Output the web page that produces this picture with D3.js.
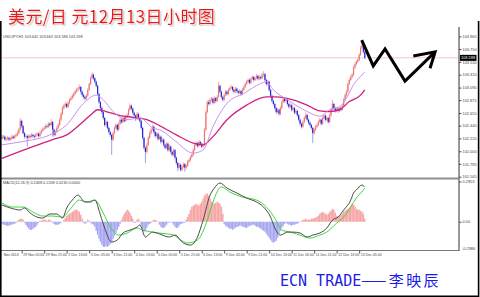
<!DOCTYPE html>
<html><head><meta charset="utf-8">
<script src="https://cdn.jsdelivr.net/npm/d3@7"></script>
<style>body{margin:0;background:#fff}svg{display:block}</style>
</head><body><svg id="c" width="480" height="297"></svg>
<script>
const opens=[102.24,102.23,102.25,102.20,102.21,102.23,102.20,102.21,102.25,102.23,
102.26,102.28,102.31,102.37,102.52,102.43,102.31,102.25,102.26,102.23,
102.26,102.25,102.28,102.26,102.25,102.28,102.30,102.26,102.31,102.35,
102.38,102.40,102.43,102.42,102.47,102.45,102.50,102.37,102.28,102.33,
102.40,102.45,102.54,102.64,102.74,102.78,102.81,102.76,102.83,102.88,
102.91,102.95,102.98,103.02,103.05,103.07,103.10,103.02,102.96,102.93,
102.90,102.95,103.05,103.15,103.25,103.31,103.25,103.19,103.12,102.98,
102.84,102.74,102.67,102.57,102.45,102.50,102.40,102.33,102.28,102.20,
102.31,102.40,102.45,102.37,102.47,102.54,102.50,102.57,102.52,102.59,
102.62,102.71,102.78,102.73,102.66,102.61,102.55,102.64,102.57,102.52,
102.40,102.23,102.06,101.99,102.11,102.23,102.31,102.37,102.42,102.33,
102.26,102.30,102.21,102.25,102.16,102.20,102.11,102.06,102.13,102.02,
102.08,101.99,101.94,102.02,101.89,101.80,101.72,101.77,101.68,101.73,
101.78,101.72,101.75,101.82,101.85,101.90,101.94,102.02,102.11,102.14,
102.09,102.16,102.13,102.08,102.11,102.37,102.67,102.84,102.81,102.88,
102.90,102.83,102.91,102.86,102.93,103.12,103.02,102.93,102.88,102.96,
103.02,102.98,103.05,103.08,103.10,103.05,103.02,103.07,103.03,103.00,
103.03,102.98,103.05,103.10,103.15,103.19,103.22,103.17,103.24,103.27,
103.22,103.25,103.29,103.24,103.27,103.25,103.31,103.32,103.22,103.15,
103.19,103.05,102.95,102.86,102.81,102.74,102.67,102.71,102.64,102.74,
102.84,102.90,102.86,102.88,102.81,102.76,102.79,102.71,102.74,102.66,
102.69,102.62,102.54,102.47,102.42,102.50,102.57,102.62,102.54,102.49,
102.45,102.40,102.31,102.37,102.42,102.45,102.50,102.54,102.47,102.57,
102.61,102.54,102.57,102.50,102.61,102.71,102.81,102.74,102.69,102.73,
102.69,102.74,102.71,102.78,102.88,102.96,103.02,103.15,103.22,103.27,
103.31,103.43,103.49,103.53,103.56,103.65,103.77,103.82,103.70];
const highs=[102.28,102.28,102.27,102.24,102.26,102.25,102.24,102.28,102.27,102.29,
102.31,102.34,102.40,102.57,102.54,102.45,102.33,102.29,102.28,102.29,
102.29,102.31,102.30,102.29,102.31,102.33,102.32,102.34,102.38,102.41,
102.43,102.46,102.46,102.50,102.49,102.55,102.52,102.39,102.36,102.43,
102.48,102.57,102.67,102.77,102.81,102.85,102.83,102.86,102.91,102.94,
102.98,103.01,103.05,103.08,103.10,103.14,103.12,103.04,102.99,102.95,
102.98,103.08,103.18,103.28,103.35,103.33,103.27,103.21,103.14,103.00,
102.86,102.77,102.69,102.59,102.53,102.52,102.42,102.35,102.30,102.34,
102.43,102.48,102.47,102.50,102.57,102.56,102.60,102.59,102.62,102.65,
102.74,102.82,102.80,102.75,102.68,102.63,102.67,102.66,102.59,102.54,
102.42,102.25,102.08,102.14,102.26,102.34,102.40,102.46,102.44,102.35,
102.33,102.32,102.28,102.27,102.23,102.22,102.13,102.16,102.15,102.11,
102.10,102.01,102.05,102.04,101.91,101.82,101.80,101.79,101.76,101.81,
101.80,101.78,101.85,101.88,101.93,101.97,102.05,102.14,102.17,102.16,
102.19,102.18,102.15,102.14,102.40,102.70,102.87,102.88,102.91,102.93,
102.92,102.94,102.93,102.96,103.19,103.14,103.04,102.95,102.99,103.05,
103.04,103.08,103.11,103.14,103.12,103.07,103.10,103.09,103.05,103.06,
103.05,103.08,103.13,103.18,103.22,103.25,103.24,103.27,103.30,103.29,
103.28,103.32,103.31,103.30,103.29,103.34,103.37,103.34,103.24,103.22,
103.21,103.07,102.97,102.88,102.83,102.76,102.74,102.73,102.77,102.87,
102.93,102.92,102.91,102.90,102.83,102.82,102.81,102.77,102.76,102.72,
102.71,102.64,102.56,102.49,102.53,102.60,102.66,102.64,102.56,102.51,
102.47,102.42,102.40,102.45,102.48,102.53,102.57,102.56,102.60,102.64,
102.63,102.60,102.59,102.64,102.74,102.88,102.83,102.76,102.76,102.75,
102.77,102.76,102.81,102.91,102.99,103.05,103.18,103.25,103.30,103.34,
103.46,103.52,103.56,103.59,103.68,103.80,103.86,103.84,103.72];
const lows=[102.20,102.21,102.18,102.17,102.19,102.17,102.18,102.20,102.21,102.21,
102.24,102.26,102.29,102.35,102.40,102.29,102.22,102.22,102.08,102.20,
102.22,102.23,102.23,102.22,102.23,102.26,102.24,102.24,102.29,102.33,
102.36,102.38,102.39,102.40,102.42,102.43,102.25,102.25,102.26,102.31,
102.38,102.43,102.52,102.62,102.71,102.75,102.73,102.74,102.80,102.86,
102.89,102.92,102.96,103.00,103.02,103.05,102.99,102.93,102.90,102.87,
102.88,102.93,103.03,103.13,103.23,103.22,103.16,103.09,102.95,102.81,
102.71,102.64,102.54,102.42,102.42,102.37,102.30,102.25,101.94,102.17,
102.29,102.38,102.34,102.35,102.45,102.47,102.48,102.49,102.50,102.57,
102.60,102.69,102.70,102.63,102.58,102.52,102.53,102.54,102.49,102.37,
102.20,102.03,101.80,101.96,102.09,102.21,102.29,102.35,102.30,102.23,
102.24,102.18,102.19,102.13,102.14,102.08,102.03,102.04,101.99,102.00,
101.96,101.91,101.92,101.86,101.77,101.66,101.70,101.65,101.66,101.71,
101.65,101.69,101.73,101.80,101.83,101.88,101.92,102.00,102.09,102.06,
102.07,102.10,102.05,102.06,102.09,102.35,102.65,102.78,102.79,102.85,
102.80,102.81,102.83,102.84,102.91,102.99,102.90,102.85,102.86,102.94,
102.95,102.96,103.03,103.06,103.02,102.99,103.00,103.00,102.97,102.98,
102.95,102.96,103.03,103.08,103.13,103.17,103.14,103.15,103.22,103.19,
103.20,103.23,103.21,103.22,103.22,103.23,103.28,103.19,103.12,103.13,
103.02,102.92,102.83,102.78,102.71,102.64,102.65,102.61,102.62,102.72,
102.82,102.83,102.84,102.78,102.73,102.74,102.68,102.69,102.63,102.64,
102.59,102.51,102.44,102.39,102.40,102.48,102.55,102.51,102.46,102.42,
102.37,102.14,102.28,102.35,102.40,102.43,102.48,102.44,102.45,102.55,
102.51,102.52,102.47,102.48,102.59,102.69,102.71,102.66,102.67,102.66,
102.67,102.68,102.69,102.76,102.86,102.94,103.00,103.13,103.20,103.25,
103.29,103.41,103.47,103.51,103.54,103.63,103.75,103.67,103.57];
const closes=[102.23,102.25,102.20,102.21,102.23,102.20,102.21,102.25,102.23,102.26,
102.28,102.31,102.37,102.52,102.43,102.31,102.25,102.26,102.23,102.26,
102.25,102.28,102.26,102.25,102.28,102.30,102.26,102.31,102.35,102.38,
102.40,102.43,102.42,102.47,102.45,102.50,102.37,102.28,102.33,102.40,
102.45,102.54,102.64,102.74,102.78,102.81,102.76,102.83,102.88,102.91,
102.95,102.98,103.02,103.05,103.07,103.10,103.02,102.96,102.93,102.90,
102.95,103.05,103.15,103.25,103.31,103.25,103.19,103.12,102.98,102.84,
102.74,102.67,102.57,102.45,102.50,102.40,102.33,102.28,102.20,102.31,
102.40,102.45,102.37,102.47,102.54,102.50,102.57,102.52,102.59,102.62,
102.71,102.78,102.73,102.66,102.61,102.55,102.64,102.57,102.52,102.40,
102.23,102.06,101.99,102.11,102.23,102.31,102.37,102.42,102.33,102.26,
102.30,102.21,102.25,102.16,102.20,102.11,102.06,102.13,102.02,102.08,
101.99,101.94,102.02,101.89,101.80,101.72,101.77,101.68,101.73,101.78,
101.72,101.75,101.82,101.85,101.90,101.94,102.02,102.11,102.14,102.09,
102.16,102.13,102.08,102.11,102.37,102.67,102.84,102.81,102.88,102.90,
102.83,102.91,102.86,102.93,103.12,103.02,102.93,102.88,102.96,103.02,
102.98,103.05,103.08,103.10,103.05,103.02,103.07,103.03,103.00,103.03,
102.98,103.05,103.10,103.15,103.19,103.22,103.17,103.24,103.27,103.22,
103.25,103.29,103.24,103.27,103.25,103.31,103.32,103.22,103.15,103.19,
103.05,102.95,102.86,102.81,102.74,102.67,102.71,102.64,102.74,102.84,
102.90,102.86,102.88,102.81,102.76,102.79,102.71,102.74,102.66,102.69,
102.62,102.54,102.47,102.42,102.50,102.57,102.62,102.54,102.49,102.45,
102.40,102.31,102.37,102.42,102.45,102.50,102.54,102.47,102.57,102.61,
102.54,102.57,102.50,102.61,102.71,102.81,102.74,102.69,102.73,102.69,
102.74,102.71,102.78,102.88,102.96,103.02,103.15,103.22,103.27,103.31,
103.43,103.49,103.53,103.56,103.65,103.77,103.82,103.70,103.60];

const fastMaIdx=[0,13,34,46,58,67,72,79,89,98,108,112,122,136,143,150,160,172,184,188,193,203,217,226,233,240,245,250,255,258];
const fastMaVal=[102.11,102.16,102.28,102.45,102.82,102.96,102.88,102.68,102.54,102.57,102.39,102.37,102.20,101.97,102.02,102.42,102.82,102.99,103.16,103.19,103.05,102.88,102.68,102.60,102.71,102.76,102.91,103.14,103.28,103.36];
const slowMaIdx=[0,22,36,46,55,63,68,74,84,93,103,112,124,136,143,150,160,174,188,195,207,217,226,233,240,247,255,258];
const slowMaVal=[101.88,102.08,102.20,102.28,102.45,102.62,102.71,102.68,102.61,102.58,102.54,102.44,102.28,102.14,102.11,102.25,102.54,102.79,102.93,102.93,102.88,102.79,102.69,102.68,102.71,102.85,102.96,103.05];

const macdIdx=[0,6,13,16,20,25,29,34,39,43,46,50,54,59,63,66,70,73,78,82,86,91,96,98,102,104,107,112,119,123,129,134,139,143,148,151,155,160,167,174,181,186,191,194,198,203,207,212,217,221,226,231,235,239,243,248,250,252,256,258];
const macdVal=[0.123,0.101,0.086,0.101,0.064,0.034,0.027,0.057,0.057,0.027,0.101,0.159,0.196,0.145,0.145,0.159,0.049,-0.046,-0.149,-0.134,-0.083,-0.061,-0.039,-0.024,-0.112,-0.098,-0.076,-0.090,-0.112,-0.098,-0.156,-0.171,-0.112,0.012,0.196,0.247,0.284,0.247,0.211,0.174,0.145,0.108,0.034,-0.046,-0.098,-0.076,-0.076,-0.083,-0.112,-0.098,-0.083,-0.046,0.012,0.034,0.086,0.159,0.211,0.233,0.269,0.255];
const signalIdx=[0,8,15,22,29,36,43,48,55,60,66,72,77,83,89,96,100,107,112,122,127,132,139,146,150,156,162,171,181,188,194,199,205,212,219,226,231,238,243,248,252,257,258];
const signalVal=[0.137,0.108,0.108,0.071,0.042,0.042,0.034,0.086,0.159,0.145,0.159,0.064,-0.039,-0.098,-0.083,-0.046,-0.061,-0.076,-0.083,-0.098,-0.134,-0.156,-0.134,0.012,0.145,0.255,0.218,0.181,0.159,0.108,0.027,-0.061,-0.076,-0.098,-0.120,-0.098,-0.076,-0.010,0.034,0.108,0.174,0.233,0.247];
const histVals=[-0.015,-0.022,-0.022,-0.029,-0.029,-0.029,-0.022,-0.022,-0.015,-0.015,-0.007,
0.007,0.015,0.022,0.022,0.015,
-0.007,-0.022,-0.037,-0.051,-0.059,-0.059,-0.051,-0.044,-0.037,-0.022,-0.007,
0.007,0.007,0.015,0.015,0.015,0.007,0.015,0.015,0.007,
-0.007,-0.015,-0.022,-0.022,-0.022,-0.015,-0.007,0,
0.015,0.029,0.044,0.051,0.059,0.066,0.073,0.081,0.088,0.088,0.081,0.073,0.051,0.022,
-0.007,-0.015,-0.007,
0.015,0.007,
-0.007,-0.015,-0.022,
-0.037,-0.066,-0.095,-0.125,-0.147,-0.169,-0.184,-0.184,-0.176,-0.184,-0.176,-0.161,-0.147,-0.125,-0.103,-0.081,-0.059,-0.037,-0.015,
0.015,0.037,0.059,0.073,0.088,0.081,0.066,0.044,0.022,
-0.007,-0.007,
0.015,0.022,0.007,
-0.029,-0.051,-0.073,-0.066,-0.044,
-0.022,-0.015,-0.007,
0.007,0.015,0.015,0.007,
0,
-0.022,-0.037,-0.044,-0.044,-0.037,-0.022,
-0.007,-0.007,0,-0.007,
-0.022,-0.037,-0.044,-0.044,-0.029,
-0.015,-0.015,-0.007,-0.007,
0.015,0.037,0.059,0.088,0.110,0.117,0.125,0.132,0.125,0.117,0.132,0.147,0.169,0.191,0.206,0.206,0.191,0.169,0.147,0.139,0.132,0.139,0.147,0.139,0.132,0.110,0.059,
-0.015,-0.029,-0.037,-0.044,-0.051,-0.051,-0.059,-0.051,-0.044,-0.037,-0.037,-0.029,-0.029,-0.037,-0.037,-0.044,-0.044,-0.037,-0.029,-0.029,-0.022,-0.022,-0.029,-0.037,-0.037,-0.044,-0.051,-0.059,-0.066,-0.073,-0.088,-0.103,-0.117,
-0.132,-0.147,-0.154,-0.147,-0.139,-0.117,-0.088,-0.066,-0.044,-0.029,-0.015,-0.007,
-0.015,-0.022,-0.022,-0.029,-0.022,-0.022,-0.015,-0.015,-0.007,0,
0.007,0.015,0.015,0.022,0.015,0.015,0.015,0.022,0.022,0.029,0.029,0.037,0.044,
0.059,0.066,0.073,0.066,0.059,0.051,0.059,0.073,0.081,0.095,0.088,0.066,0.044,0.037,0.044,0.051,0.059,0.073,0.081,0.088,0.095,0.103,0.117,0.132,0.125,0.110,0.095,0.088,0.088,0.081,0.073,0.059,0.022];

const priceTicks=[103.965,103.750,103.530,103.310,103.090,102.875,102.655,102.440,102.220,102.000,101.785,101.565];
const lastPrice=103.598;
const macdTickVals=[0.2953,0];
const macdTickLabels=["0.2953","0.00"];
const macdMinLabel="-0.2986";
const timeLabelIdx=[0,14,30,46,62,78,94,110,126,142,158,174,190,206,222,238,254];
const timeLabels=["Nov 2013","29 Nov 05:00","29 Nov 21:00","2 Dec 13:00","3 Dec 05:00","3 Dec 21:00","4 Dec 13:00","5 Dec 05:00","5 Dec 21:00","6 Dec 13:00","9 Dec 05:00","9 Dec 21:00","10 Dec 13:00","11 Dec 05:00","11 Dec 21:00","12 Dec 13:00","13 Dec 05:00"];
// hand-drawn forecast zigzag, in bar index / price units
const arrowIdx=[255.8,264,272.4,286.6,308];
const arrowPrice=[103.90,103.46,103.75,103.20,103.70];
const arrowHeadIdx=[292.5,308,304.4];
const arrowHeadPrice=[103.63,103.70,103.42];

const titleText="美元/日 元12月13日小时图";
const mainHeader="USDJPY,H1  103.642 103.663 103.586 103.598";
const macdHeader="MACD(12,26,9) 0.2468 0.2208 0.0230 0.0000";

const svg=d3.select('#c');
const tiny="'Liberation Sans',Arial,sans-serif";

const x=d3.scaleLinear().domain([0,325]).range([2,459]);
const y=d3.scaleLinear().domain([101.565,103.965]).range([176.7,36.4]);
const ym=d3.scaleLinear().domain([-0.2,0.2953]).range([249,181.5]);

svg.append('rect').attr('width',480).attr('height',297).attr('fill','#fff');

const defs=svg.append('defs');
defs.append('clipPath').attr('id','cm').append('rect').attr('x',1).attr('y',27).attr('width',458).attr('height',150);
defs.append('clipPath').attr('id','cd').append('rect').attr('x',1).attr('y',179.5).attr('width',458).attr('height',70);
const sh=defs.append('filter').attr('id','sh').attr('x','-5%').attr('y','-20%').attr('width','115%').attr('height','150%');
sh.append('feDropShadow').attr('dx',1.6).attr('dy',1.6).attr('stdDeviation',0.4).attr('flood-color','#bbbbbb').attr('flood-opacity',0.75);

// title
const cjk="'Noto Sans CJK SC',sans-serif";
svg.append('text').attr('x',8).attr('y',22.5).text(titleText).attr('filter','url(#sh)')
  .attr('font-family',cjk).attr('font-size',17).attr('letter-spacing',0.4).attr('fill','#f01818');

// current price line
svg.append('line').attr('x1',2).attr('x2',459).attr('y1',y(lastPrice)).attr('y2',y(lastPrice))
  .attr('stroke','#f6c6c6').attr('stroke-width',1);

const gm=svg.append('g').attr('clip-path','url(#cm)');
const bars=closes.map((c,i)=>({i,o:opens[i],h:highs[i],l:lows[i],c}));
gm.selectAll('line.w').data(bars).join('line').attr('class','w')
  .attr('x1',d=>x(d.i)).attr('x2',d=>x(d.i)).attr('y1',d=>y(d.h)).attr('y2',d=>y(d.l))
  .attr('stroke',d=>d.c>=d.o?'#f5a8a8':'#a0a0ee').attr('stroke-width',1);
gm.selectAll('rect.b').data(bars).join('rect').attr('class','b')
  .attr('x',d=>x(d.i)-0.6).attr('width',1.2)
  .attr('y',d=>y(Math.max(d.o,d.c))).attr('height',d=>Math.max(0.7,Math.abs(y(d.o)-y(d.c))))
  .attr('fill',d=>d.c>=d.o?'#f07070':'#2222d4');

const ln=d3.line().x(d=>x(d[0])).y(d=>y(d[1])).curve(d3.curveMonotoneX);
gm.append('path').attr('d',ln(d3.zip(slowMaIdx,slowMaVal))).attr('fill','none').attr('stroke','#d0207e').attr('stroke-width',1.3);
gm.append('path').attr('d',ln(d3.zip(fastMaIdx,fastMaVal))).attr('fill','none').attr('stroke','#cf8ef0').attr('stroke-width',1);

// arrow annotation
const la=d3.line().x(d=>x(d[0])).y(d=>y(d[1]));
svg.append('path').attr('d',la(d3.zip(arrowIdx,arrowPrice))).attr('fill','none').attr('stroke','#000').attr('stroke-width',3).attr('stroke-linejoin','miter');
svg.append('path').attr('d',la(d3.zip(arrowHeadIdx,arrowHeadPrice))).attr('fill','none').attr('stroke','#000').attr('stroke-width',3).attr('stroke-linejoin','miter');

// header
svg.append('text').attr('x',3).attr('y',38).text(mainHeader).attr('font-family',tiny).attr('font-size',3.8).attr('fill','#444');

// price axis
const pa=svg.append('g').attr('transform','translate(459,0)')
  .call(d3.axisRight(y).tickValues(priceTicks).tickFormat(d3.format('.3f')).tickSize(2.5).tickSizeOuter(0).tickPadding(1));
pa.select('.domain').remove();
pa.selectAll('text').attr('font-family',tiny).attr('font-size',3.9).attr('fill','#444');
pa.selectAll('line').attr('stroke','#555');
svg.append('line').attr('x1',459).attr('x2',459).attr('y1',27).attr('y2',251).attr('stroke','#333').attr('stroke-width',1);
// last price tag
const ly=y(lastPrice);
svg.append('rect').attr('x',460).attr('y',ly-3).attr('width',16.5).attr('height',6).attr('fill','#000');
svg.append('text').attr('x',461).attr('y',ly+1.4).text(d3.format('.3f')(lastPrice)).attr('font-family',tiny).attr('font-size',3.9).attr('fill','#fff');

// separator
svg.append('rect').attr('x',0).attr('y',177.5).attr('width',459).attr('height',2).attr('fill','#8e8e8e');

// MACD panel
const gd=svg.append('g').attr('clip-path','url(#cd)');
gd.selectAll('rect.h').data(histVals.map((v,i)=>({i,v}))).join('rect').attr('class','h')
  .attr('x',d=>x(d.i)-0.72).attr('width',1.46)
  .attr('y',d=>Math.min(ym(0),ym(d.v))).attr('height',d=>Math.abs(ym(d.v)-ym(0)))
  .attr('fill',d=>d.v>=0?'#f6a6a6':'#a9a9f2');
const lm=d3.line().x(d=>x(d[0])).y(d=>ym(d[1])).curve(d3.curveMonotoneX);
gd.append('path').attr('d',lm(d3.zip(signalIdx,signalVal))).attr('fill','none').attr('stroke','#3fd83f').attr('stroke-width',1);
gd.append('path').attr('d',lm(d3.zip(macdIdx,macdVal))).attr('fill','none').attr('stroke','#4a4a4a').attr('stroke-width',1);
svg.append('text').attr('x',3).attr('y',184).text(macdHeader).attr('font-family',tiny).attr('font-size',3.8).attr('fill','#444');

const ma=svg.append('g').attr('transform','translate(459,0)')
  .call(d3.axisRight(ym).tickValues(macdTickVals).tickFormat((d,i)=>macdTickLabels[i]).tickSize(2.5).tickSizeOuter(0).tickPadding(1));
ma.select('.domain').remove();
ma.selectAll('text').attr('font-family',tiny).attr('font-size',3.9).attr('fill','#444');
ma.selectAll('line').attr('stroke','#555');
svg.append('text').attr('x',462).attr('y',ym.range()[0]+1.3).text(macdMinLabel).attr('font-family',tiny).attr('font-size',3.9).attr('fill','#444');

// bottom line of panel
svg.append('line').attr('x1',0).attr('x2',459).attr('y1',250.5).attr('y2',250.5).attr('stroke','#777').attr('stroke-width',1.2);

// time axis
const ta=svg.append('g').attr('transform','translate(0,250.5)')
  .call(d3.axisBottom(x).tickValues(timeLabelIdx).tickFormat((d,i)=>timeLabels[i]).tickSize(3).tickSizeOuter(0).tickPadding(1));
ta.select('.domain').remove();
ta.selectAll('line').attr('stroke','#555').filter((d,i)=>i===0).remove();
ta.selectAll('text').attr('font-family',tiny).attr('font-size',3.5).attr('fill','#444')
  .attr('text-anchor','start').attr('x',1.2).attr('dy','0.5em');

// signature
const sig=svg.append('text').attr('x',280).attr('y',286).attr('font-size',15).attr('fill','#1c1ce6');
sig.append('tspan').attr('font-family',"'DejaVu Sans Mono',monospace").text('ECN TRADE');
sig.append('tspan').attr('font-family',cjk).attr('letter-spacing',2.4).text('——李映辰');

// outer frame
svg.append('path').attr('d','M0.8,21V296.2H478.6V21').attr('fill','none').attr('stroke','#000').attr('stroke-width',1.6);
</script>
</body></html>
